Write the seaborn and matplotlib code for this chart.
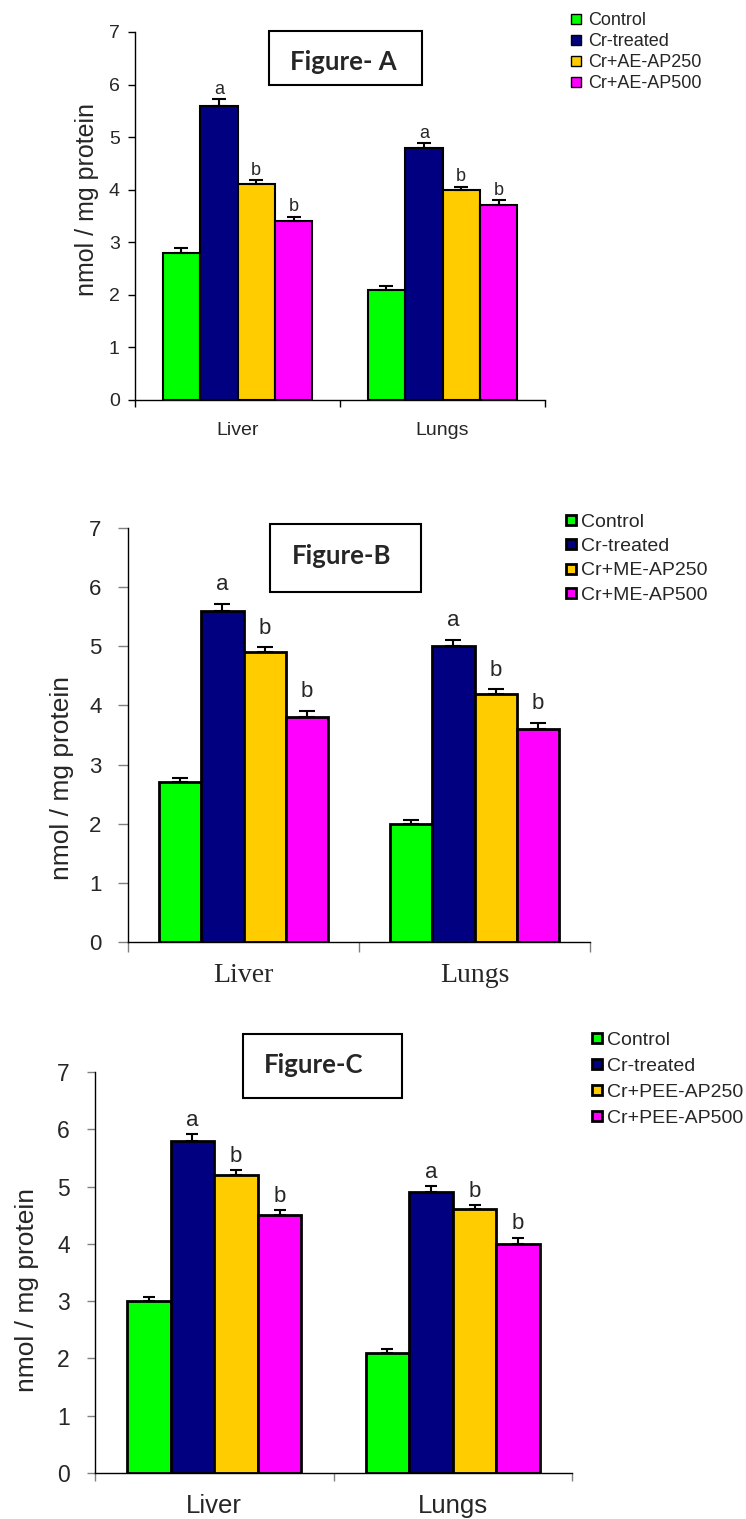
"""
Grouped bar charts (Figure A-C): nmol / mg protein in liver and lungs.
"""

import matplotlib.pyplot as plt
import numpy as np
import pandas as pd
import seaborn as sns
from matplotlib.lines import Line2D
from matplotlib.patches import Rectangle

W, H = 746, 1519

organs = ["Liver", "Lungs"]
colors = ["#00FF00", "#000080", "#FFCC00", "#FF00FF"]
letters = ["", "a", "b", "b"]

groups_a = ["Control", "Cr-treated", "Cr+AE-AP250", "Cr+AE-AP500"]
means_a = [[2.8, 2.1], [5.6, 4.8], [4.1, 4.0], [3.4, 3.7]]
sem_a = [[0.09, 0.06], [0.12, 0.08], [0.08, 0.06], [0.09, 0.10]]

groups_b = ["Control", "Cr-treated", "Cr+ME-AP250", "Cr+ME-AP500"]
means_b = [[2.7, 2.0], [5.6, 5.0], [4.9, 4.2], [3.8, 3.6]]
sem_b = [[0.08, 0.06], [0.11, 0.10], [0.08, 0.07], [0.11, 0.10]]

groups_c = ["Control", "Cr-treated", "Cr+PEE-AP250", "Cr+PEE-AP500"]
means_c = [[3.0, 2.1], [5.8, 4.9], [5.2, 4.6], [4.5, 4.0]]
sem_c = [[0.08, 0.07], [0.11, 0.11], [0.09, 0.08], [0.09, 0.11]]


def px_rect(left, top, right, bottom):
    """Pixel box -> figure fraction [x, y, w, h]."""
    return [left / W, 1 - bottom / H, (right - left) / W, (bottom - top) / H]


def fx(x):
    return x / W


def fy(y):
    return 1 - y / H


def draw_panel(fig, rect, groups, means, sems, cfg):
    ax = fig.add_axes(rect)
    df = pd.DataFrame(
        [
            {"organ": organ, "group": g, "value": means[i][j]}
            for i, g in enumerate(groups)
            for j, organ in enumerate(organs)
        ]
    )
    sns.barplot(
        data=df, x="organ", y="value", hue="group", order=organs,
        hue_order=groups, palette=colors, saturation=1, width=0.73,
        edgecolor="black", linewidth=cfg["edge"], errorbar=None,
        legend=False, ax=ax,
    )

    # upward-only error bars + significance letters
    bar_conts = list(ax.containers)
    for i, cont in enumerate(bar_conts):
        xs = np.array([b.get_x() + b.get_width() / 2 for b in cont])
        hs = np.array([b.get_height() for b in cont])
        err = np.array(sems[i])
        ax.errorbar(
            xs, hs, yerr=[np.zeros_like(err), err], fmt="none",
            ecolor="black", elinewidth=1.5, capsize=cfg["cap"], capthick=1.5,
            zorder=3,
        )
        if letters[i]:
            for x, h, e in zip(xs, hs, err):
                ax.annotate(
                    letters[i], (x, h + e), xytext=(0, cfg["let_off"]),
                    textcoords="offset points", ha="center", va="baseline",
                    fontsize=cfg["let_fs"],
                )

    ax.set_ylim(0, 7)
    ax.set_xlim(-0.5, 1.5)
    ax.set_yticks(range(8))
    ax.set_xticks([-0.5, 0.5, 1.5], minor=True)
    ax.set_xlabel("")
    ax.set_ylabel("")
    sns.despine(ax=ax)
    for s in ["left", "bottom"]:
        ax.spines[s].set_linewidth(1.0)
        ax.spines[s].set_color("black")

    ax.tick_params(axis="y", which="major", direction="out", length=cfg["ytick_len"],
                   width=1, color=cfg["tick_col"], labelsize=cfg["ytick_fs"],
                   pad=cfg["ytick_pad"], left=True)
    ax.tick_params(axis="x", which="major", length=0, labelsize=cfg["xtick_fs"],
                   pad=cfg["xtick_pad"])
    ax.tick_params(axis="x", which="minor", direction="out", length=cfg["ytick_len"],
                   width=1, color=cfg["tick_col"], bottom=True)
    if cfg.get("xfamily"):
        for lab in ax.get_xticklabels():
            lab.set_family(cfg["xfamily"])

    fig.text(fx(cfg["ylab_x"]), fy(cfg["ylab_y"]), "nmol / mg protein",
             rotation=90, ha="center", va="center", fontsize=cfg["ylab_fs"])

    # boxed panel title
    bl, bt, br, bb = cfg["box"]
    fig.add_artist(Rectangle((fx(bl), fy(bb)), (br - bl) / W, (bb - bt) / H,
                             transform=fig.transFigure, fill=False,
                             edgecolor="black", linewidth=1.5))
    tx, ty = cfg["title_xy"]
    fig.text(fx(tx), fy(ty), cfg["title"], ha="left", va="baseline",
             fontsize=18.5, fontweight="bold", family=["Lato", "DejaVu Sans"])

    handles = [
        Line2D([], [], marker="s", linestyle="none", markersize=cfg["mk"],
               markerfacecolor=c, markeredgecolor="black",
               markeredgewidth=cfg["mk_ew"])
        for c in colors
    ]
    lx, ly = cfg["leg_xy"]
    fig.legend(handles, groups, loc="upper left",
               bbox_to_anchor=(fx(lx), fy(ly)), frameon=False,
               fontsize=cfg["leg_fs"], borderpad=0, borderaxespad=0,
               handlelength=cfg["hl"], handletextpad=cfg["htp"],
               labelspacing=cfg["ls"])
    return ax


sns.set_theme(style="white")
plt.rcParams["font.family"] = ["Liberation Sans", "DejaVu Sans"]

fig = plt.figure(figsize=(W / 100, H / 100), dpi=100)

cfg_a = dict(edge=1.5, cap=4.7, let_off=4, let_fs=13, ytick_len=5, tick_col="black",
             ytick_fs=14, ytick_pad=6, xtick_fs=14, xtick_pad=15.5,
             ylab_x=87, ylab_y=199, ylab_fs=18, box=(269, 31, 422, 85),
             title_xy=(290, 70), title="Figure- A", mk=7.5, mk_ew=1.0,
             leg_xy=(571, 12), leg_fs=13, hl=0.6, htp=0.35, ls=0.22)
cfg_b = dict(edge=2.0, cap=6, let_off=10, let_fs=16, ytick_len=7, tick_col="#808080",
             ytick_fs=16, ytick_pad=12, xtick_fs=20, xtick_pad=15,
             ylab_x=62, ylab_y=778, ylab_fs=19, box=(270, 524, 421, 592),
             title_xy=(292, 564), title="Figure-B", mk=7.5, mk_ew=2.0,
             leg_xy=(566, 513), leg_fs=14, hl=0.55, htp=0.2, ls=0.35,
             xfamily=["Liberation Serif", "DejaVu Serif"])
cfg_c = dict(edge=2.0, cap=4.5, let_off=6, let_fs=16, ytick_len=6, tick_col="#808080",
             ytick_fs=16.5, ytick_pad=12, xtick_fs=18.5, xtick_pad=15,
             ylab_x=27, ylab_y=1290, ylab_fs=19, box=(243, 1034, 402, 1098),
             title_xy=(264, 1073), title="Figure-C", mk=7.5, mk_ew=2.0,
             leg_xy=(592, 1031), leg_fs=14, hl=0.55, htp=0.2, ls=0.43)

draw_panel(fig, px_rect(135, 32, 545, 400), groups_a, means_a, sem_a, cfg_a)
draw_panel(fig, px_rect(128, 528, 590, 942), groups_b, means_b, sem_b, cfg_b)
draw_panel(fig, px_rect(95, 1072, 572, 1473), groups_c, means_c, sem_c, cfg_c)

fig.savefig("out.png", dpi=100)
plt.close(fig)
